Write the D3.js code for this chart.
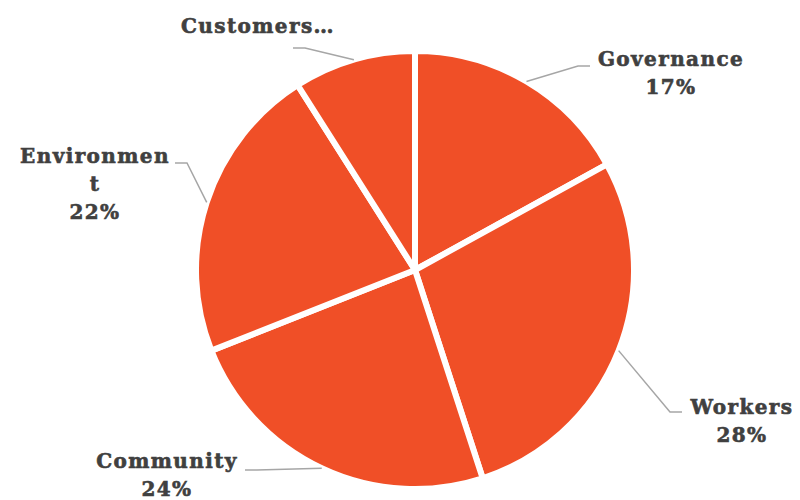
<!DOCTYPE html>
<html>
<head>
<meta charset="utf-8">
<script src="https://cdn.jsdelivr.net/npm/d3@7"></script>
<style>
  html, body { margin: 0; padding: 0; background: #fff; }
  svg { display: block; }
  .lbl { font-family: "DejaVu Serif", serif; font-weight: bold; fill: #404040;
         stroke: #404040; stroke-width: 0.6px; font-size: 20px; letter-spacing: 1.4px; }
</style>
</head>
<body>
<svg id="chart" width="800" height="500"></svg>
<script>
// Share of focus by stakeholder group (percent)
const categories = ["Governance", "Workers", "Community", "Environment", "Customers"];
const values = [17, 28, 24, 22, 9];
// Text shown for each slice (long names wrap or get cut off)
const labelLines = [["Governance"], ["Workers"], ["Community"], ["Environmen", "t"], ["Customers…"]];
const showPct = [true, true, true, true, false];

// Label placement: text block centre / first baseline, and where the leader meets the label
const labelLayout = {
  Governance:  { tx: 671, ty: 66,  ex: 590, ey: 66,  side: -1 },
  Workers:     { tx: 742, ty: 414, ex: 682, ey: 412, side: -1 },
  Community:   { tx: 167, ty: 468, ex: 245, ey: 470, side: 1 },
  Environment: { tx: 95,  ty: 163, ex: 175, ey: 163, side: 1 },
  Customers:   { tx: 258, ty: 33,  ex: 293, ey: 48,  side: 1 }
};

const svg = d3.select("#chart");
const cx = 415, cy = 270, r = 219;

const pie = d3.pie().sort(null).value(d => d.value);
const data = categories.map((c, i) => ({ name: c, value: values[i], lines: labelLines[i], pct: showPct[i] }));
const arcs = pie(data);
const arc = d3.arc().innerRadius(0).outerRadius(r);

const g = svg.append("g").attr("transform", `translate(${cx},${cy})`);
g.selectAll("path.slice")
  .data(arcs)
  .join("path")
  .attr("class", "slice")
  .attr("d", arc)
  .attr("fill", "#F04F27")
  .attr("stroke", "#fff")
  .attr("stroke-width", 6)
  .attr("stroke-linejoin", "round");

// Leader lines: from the rim at each slice's mid-angle to its label
const total = d3.sum(values);
arcs.forEach(a => {
  const L = labelLayout[a.data.name];
  const mid = (a.startAngle + a.endAngle) / 2;
  const sx = cx + r * Math.sin(mid), sy = cy - r * Math.cos(mid);
  const elbowX = L.ex + 12 * L.side;
  svg.append("polyline")
    .attr("points", `${sx},${sy} ${elbowX},${L.ey} ${L.ex},${L.ey}`)
    .attr("fill", "none")
    .attr("stroke", "#A6A6A6")
    .attr("stroke-width", 1.5);

  const t = svg.append("text").attr("class", "lbl").attr("text-anchor", "middle");
  const lines = a.data.lines.slice();
  if (a.data.pct) lines.push(Math.round(a.data.value / total * 100) + "%");
  lines.forEach((s, i) => {
    t.append("tspan").attr("x", L.tx).attr("y", L.ty + i * 28).text(s);
  });
});
</script>
</body>
</html>
